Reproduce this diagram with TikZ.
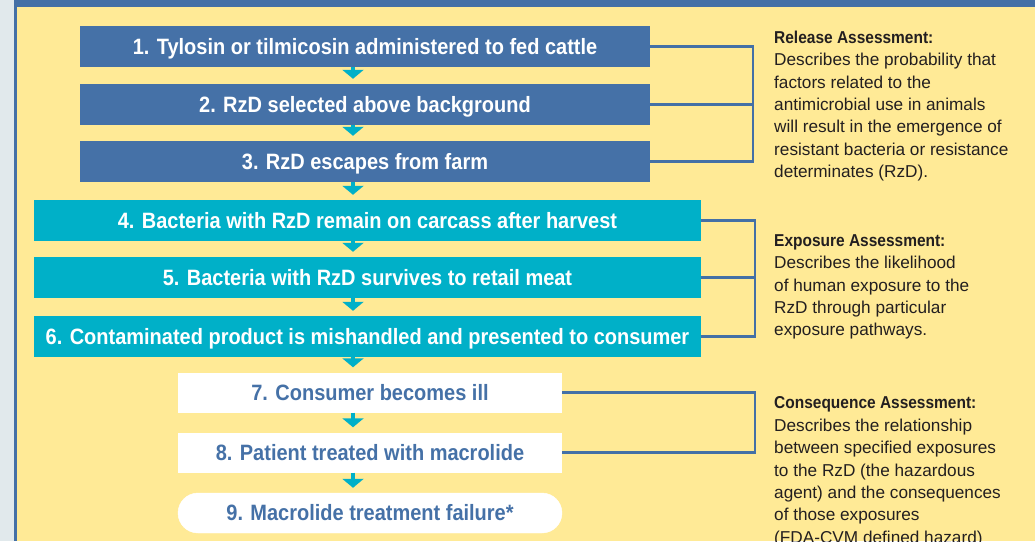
\documentclass[tikz,border=0pt]{standalone}
\usepackage{fontspec}
\usepackage{xcolor}
\setmainfont{Liberation Sans}
\newfontfamily\boxfont{Liberation Sans}[FakeStretch=0.9]
\newfontfamily\headfont{Liberation Sans}[FakeStretch=0.9]
\usetikzlibrary{arrows.meta}

\definecolor{frameblue}{HTML}{4470A6}
\definecolor{stepblue}{HTML}{4571A7}
\definecolor{stepcyan}{HTML}{00B0C8}
\definecolor{paper}{HTML}{FFEA96}
\definecolor{margin}{HTML}{E1E9EC}
\definecolor{ink}{HTML}{231F20}

\tikzset{
    stepbox/.style={minimum height=41pt, inner sep=0pt, text height=15.8pt, text depth=0pt,
        font=\boxfont\bfseries\fontsize{22.2}{26}\selectfont},
    releasebox/.style={stepbox, fill=stepblue, text=white, minimum width=570pt},
    exposurebox/.style={stepbox, fill=stepcyan, text=white, minimum width=667pt},
    outcomebox/.style={stepbox, fill=white, text=stepblue, minimum width=384pt, minimum height=40pt},
    flowarrow/.style={draw=stepcyan, line width=4.5pt, -{Triangle[width=21pt,length=9pt]}, shorten >=5pt},
    bracket/.style={draw=frameblue, line width=2.4pt},
    note/.style={anchor=north west, inner sep=0pt, align=left, text=ink,
        font=\fontsize{17.2}{22.4}\selectfont}
}

\begin{document}
\begin{tikzpicture}[x=1pt, y=-1pt]
    \useasboundingbox (0,0) rectangle (1035,541);
    \clip (0,0) rectangle (1035,541);

    % page frame
    \fill[margin] (0,0) rectangle (14,541);
    \fill[paper] (14,0) rectangle (1035,541);
    \fill[frameblue] (14,0) rectangle (1035,7);
    \fill[frameblue] (14,0) rectangle (17,541);

    % release steps
    \node[releasebox] (s1) at (365,46.5) {1. Tylosin or tilmicosin administered to fed cattle};
    \node[releasebox] (s2) at (365,104.5) {2. RzD selected above background};
    \node[releasebox] (s3) at (365,161.5) {3. RzD escapes from farm};

    % exposure steps
    \node[exposurebox] (s4) at (367.5,220.5) {4. Bacteria with RzD remain on carcass after harvest};
    \node[exposurebox] (s5) at (367.5,277.5) {5. Bacteria with RzD survives to retail meat};
    \node[exposurebox] (s6) at (367.5,336.5) {6. Contaminated product is mishandled and presented to consumer};

    % consequence steps
    \node[outcomebox] (s7) at (370,392.5) {7. Consumer becomes ill};
    \node[outcomebox] (s8) at (370,452.5) {8. Patient treated with macrolide};
    \node[outcomebox, rounded corners=20pt, draw=white] (s9) at (370,513) {9. Macrolide treatment failure*};

    % arrows down the chain
    \coordinate (axis) at (353,0);
    \foreach \a/\b in {s1/s2, s2/s3, s3/s4, s4/s5, s5/s6, s6/s7, s7/s8, s8/s9}
        \draw[flowarrow] (\a.south -| axis) -- (\b.north -| axis);

    % brackets
    \coordinate (relx) at (753,0);
    \coordinate (expx) at (755,0);
    \coordinate (conx) at (755,0);
    \draw[bracket] (s1.east) -| (s3.east -| relx) -- (s3.east);
    \draw[bracket] (s2.east) -- (s2.east -| relx);
    \draw[bracket] (s4.east) -| (s6.east -| expx) -- (s6.east);
    \draw[bracket] (s5.east) -- (s5.east -| expx);
    \draw[bracket] (s7.east) -| (s8.east -| conx) -- (s8.east);

    % assessment notes
    \node[note] (release) at (774,30.7) {{\headfont\bfseries Release Assessment:}\\
        Describes the probability that\\
        factors related to the\\
        antimicrobial use in animals\\
        will result in the emergence of\\
        resistant bacteria or resistance\\
        determinates (RzD).};
    \node[note] (exposure) at (774,234.2) {{\headfont\bfseries Exposure Assessment:}\\
        Describes the likelihood\\
        of human exposure to the\\
        RzD through particular\\
        exposure pathways.};
    \node[note] (consequence) at (774,396.7) {{\headfont\bfseries Consequence Assessment:}\\
        Describes the relationship\\
        between specified exposures\\
        to the RzD (the hazardous\\
        agent) and the consequences\\
        of those exposures\\
        (FDA-CVM defined hazard)};
\end{tikzpicture}
\end{document}
